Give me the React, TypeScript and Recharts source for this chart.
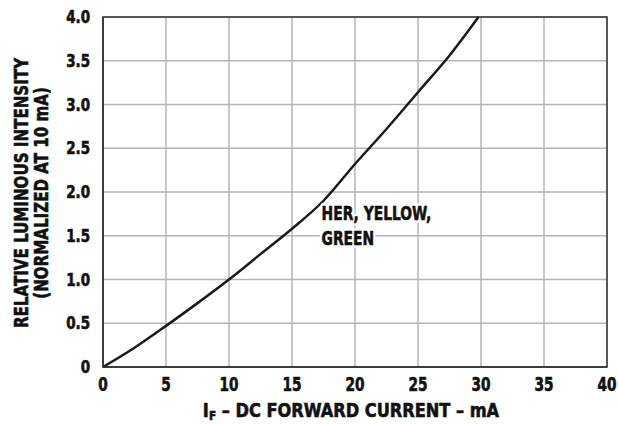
import React from "react";
import {
  CartesianGrid,
  Line,
  LineChart,
  ReferenceArea,
  ReferenceDot,
  XAxis,
  YAxis,
} from "recharts";

const FONT = "'DejaVu Sans Condensed', 'DejaVu Sans', sans-serif";
const INK = "#111";

// (mA vs relative intensity)
const currentMa = [0, 2.5, 5, 7.5, 10, 12.5, 15, 17.5, 20, 22.5, 25, 27.5, 29.8];
const intensity = [0, 0.22, 0.47, 0.73, 1.0, 1.29, 1.58, 1.9, 2.32, 2.72, 3.14, 3.56, 4.0];

const xTicks = [0, 5, 10, 15, 20, 25, 30, 35, 40];
const yTicks = [0, 0.5, 1, 1.5, 2, 2.5, 3, 3.5, 4];
const yTickLabels = ["0", "0.5", "1.0", "1.5", "2.0", "2.5", "3.0", "3.5", "4.0"];

const curveLabel = ["HER, YELLOW,", "GREEN"];

const data = currentMa.map((x, i) => ({ x, y: intensity[i] }));

// narrow heavy text: the original uses a condensed face, so squeeze horizontally
function Squeezed({ x, y, sx, size, anchor = "start", rotate = 0, halo = false, children }: any) {
  const t = `translate(${x},${y}) rotate(${rotate}) scale(${sx},1)`;
  const common = {
    x: 0,
    y: 0,
    textAnchor: anchor,
    fontFamily: FONT,
    fontWeight: "bold",
    fontSize: size,
    strokeLinejoin: "round" as const,
  };
  return (
    <g transform={t}>
      {halo && (
        <text {...common} fill="#fff" stroke="#fff" strokeWidth={6}>
          {children}
        </text>
      )}
      <text {...common} fill={INK} stroke={INK} strokeWidth={0.6}>
        {children}
      </text>
    </g>
  );
}

function XTick(props: any) {
  const { x, y, payload } = props;
  return (
    <Squeezed x={x} y={y + 14} sx={0.8} size={19} anchor="middle">
      {payload.value}
    </Squeezed>
  );
}

function YTick(props: any) {
  const { x, y, payload } = props;
  return (
    <Squeezed x={x + 3} y={y + 6} sx={0.88} size={17} anchor="end">
      {yTickLabels[yTicks.indexOf(payload.value)]}
    </Squeezed>
  );
}

function YTitle(props: any) {
  const vb = props.viewBox;
  const cy = vb.y + vb.height / 2 + 1;
  return (
    <g>
      <Squeezed x={28} y={cy} sx={0.84} size={20} anchor="middle" rotate={-90}>
        RELATIVE LUMINOUS INTENSITY
      </Squeezed>
      <Squeezed x={48} y={cy} sx={0.84} size={20} anchor="middle" rotate={-90}>
        (NORMALIZED AT 10 mA)
      </Squeezed>
    </g>
  );
}

function XTitle(props: any) {
  const vb = props.viewBox;
  const cx = vb.x + vb.width / 2 - 4;
  return (
    <Squeezed x={cx} y={417} sx={0.9} size={20} anchor="middle">
      I<tspan fontSize={13} dy={3}>F</tspan>
      <tspan dy={-3}> – DC FORWARD CURRENT – mA</tspan>
    </Squeezed>
  );
}

function CurveTag(props: any) {
  const { cx, cy } = props;
  return (
    <g>
      {curveLabel.map((t, i) => (
        <Squeezed key={t} x={cx} y={cy + i * 25} sx={0.77} size={20} halo>
          {t}
        </Squeezed>
      ))}
    </g>
  );
}

export default function App() {
  return (
    <div style={{ position: "absolute", left: 0, top: 0, background: "#fff" }}>
      <LineChart width={618} height={424} data={data} margin={{ top: 17, right: 11, left: 0, bottom: 0 }}>
        <CartesianGrid stroke="#b5b5b5" strokeWidth={1.5} horizontalValues={yTicks} verticalValues={xTicks} />
        <XAxis
          dataKey="x"
          type="number"
          domain={[0, 40]}
          ticks={xTicks}
          height={57}
          tickLine={false}
          axisLine={{ stroke: "#333", strokeWidth: 1.5 }}
          tick={<XTick />}
          tickMargin={4}
          label={<XTitle />}
        />
        <YAxis
          type="number"
          domain={[0, 4]}
          ticks={yTicks}
          width={103}
          tickLine={false}
          axisLine={{ stroke: "#333", strokeWidth: 1.5 }}
          tick={<YTick />}
          tickMargin={10}
          label={<YTitle />}
        />
        <ReferenceArea x1={0} x2={40} y1={0} y2={4} fill="none" stroke="#333" strokeWidth={1.5} />
        <ReferenceDot x={17.35} y={1.68} r={0} shape={(p: any) => <CurveTag {...p} />} />
        <Line
          type="monotone"
          dataKey="y"
          stroke="#1a1a1a"
          strokeWidth={2.5}
          dot={false}
          isAnimationActive={false}
        />
      </LineChart>
    </div>
  );
}
